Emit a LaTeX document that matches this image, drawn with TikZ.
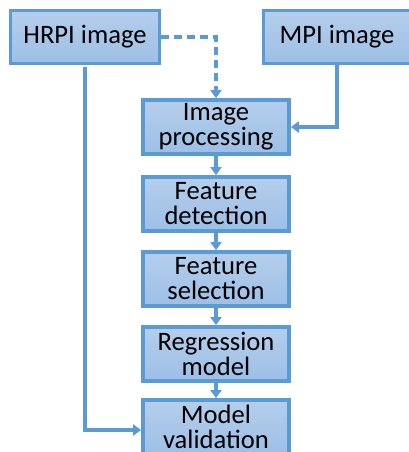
\documentclass[tikz,border=0pt]{standalone}
\usepackage{fontspec}
\setmainfont{Carlito}
\usetikzlibrary{arrows.meta}
\definecolor{edgeblue}{HTML}{5B9BD5}
\definecolor{filltop}{HTML}{B5CEEC}
\definecolor{fillbot}{HTML}{9DBFE6}
\tikzset{
  stepbox/.style={draw=edgeblue, line width=3.8pt, top color=filltop, bottom color=fillbot,
    minimum width=146pt, minimum height=54pt, inner sep=0pt, align=center,
    font=\fontsize{26.6pt}{25pt}\selectfont, text=black},
  link/.style={draw=edgeblue, line width=3.3pt, -{Triangle[length=8pt,width=11pt]}},
  dashlink/.style={link, dash pattern=on 8pt off 5pt}
}
\begin{document}
\begin{tikzpicture}[x=1pt,y=-1pt]
  \useasboundingbox (0,0) rectangle (408,452);
  \fill[white] (0,0) rectangle (408,452);

  % source images
  \node[stepbox, minimum width=149pt, minimum height=53pt] (hrpi) at (85,37) {HRPI image};
  \node[stepbox, minimum width=147pt, minimum height=53pt] (mpi) at (337,37) {MPI image};

  % processing chain
  \node[stepbox] (proc) at (216,127) {Image\\processing};
  \node[stepbox] (detect) at (216,204) {Feature\\detection};
  \node[stepbox] (select) at (216,279) {Feature\\selection};
  \node[stepbox] (regr) at (216,354) {Regression\\model};
  \node[stepbox] (valid) at (216,427) {Model\\validation};

  % connectors
  \draw[dashlink] (hrpi.east) -| (proc.north);
  \draw[link] (mpi.south) |- (proc.east);
  \draw[link] ([yshift=-2pt]hrpi.south) |- ([yshift=-3pt]valid.west);
  \draw[link] (proc) -- (detect);
  \draw[link] (detect) -- (select);
  \draw[link] (select) -- (regr);
  \draw[link] (regr) -- (valid);
\end{tikzpicture}
\end{document}
